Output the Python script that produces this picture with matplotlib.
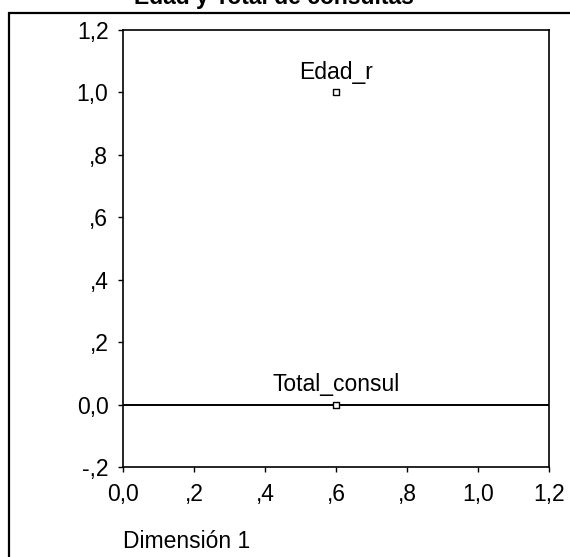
import matplotlib
matplotlib.use("Agg")
import matplotlib.pyplot as plt
from matplotlib.patches import Rectangle

# Data
labels = ["Edad_r", "Total_consul"]
dim1 = [0.6, 0.6]
dim2 = [1.0, 0.0]
xticks = [0.0, 0.2, 0.4, 0.6, 0.8, 1.0, 1.2]
xticklabels = ["0,0", ",2", ",4", ",6", ",8", "1,0", "1,2"]
yticks = [-0.2, 0.0, 0.2, 0.4, 0.6, 0.8, 1.0, 1.2]
yticklabels = ["-,2", "0,0", ",2", ",4", ",6", ",8", "1,0", "1,2"]
title = "Edad y Total de consultas"
xlabel = "Dimensión 1"

plt.rcParams['font.family'] = ['Liberation Sans', 'DejaVu Sans']
FS = 16.5

W, H = 570, 557
fig = plt.figure(figsize=(W / 100, H / 100), dpi=100)

# outer frame (clipped at right/bottom in reference)
fig.patches.append(Rectangle((9 / W, -0.1), 1.2, 1 - 13 / H + 0.1,
                             transform=fig.transFigure, fill=False,
                             edgecolor='black', linewidth=1.6, clip_on=False))

ax = fig.add_axes([123 / W, 1 - 467 / H, (549 - 123) / W, (467 - 30) / H])
ax.set_xlim(0.0, 1.2)
ax.set_ylim(-0.2, 1.2)

ax.axhline(0.0, color='black', linewidth=1.4, zorder=2)
ax.scatter(dim1, dim2, marker='s', s=24, facecolor='white', edgecolor='black',
           linewidth=1.0, zorder=3)
for lab, x, y in zip(labels, dim1, dim2):
    ax.annotate(lab, (x, y), xytext=(0, 9.5), textcoords='offset points',
                ha='center', va='baseline', fontsize=FS)

ax.set_xticks(xticks)
ax.set_xticklabels(xticklabels)
ax.set_yticks(yticks)
ax.set_yticklabels(yticklabels)
ax.tick_params(direction='out', length=3.5, width=1.0, labelsize=FS, pad=8)
ax.tick_params(axis='y', pad=7)
for s in ax.spines.values():
    s.set_linewidth(1.2)
    s.set_color('black')

fig.text(274 / W, 1 - 4 / H, title, ha='center', va='baseline',
         fontsize=FS, fontweight='bold')
fig.text(123 / W, 1 - 548 / H, xlabel, ha='left', va='baseline', fontsize=FS)

fig.savefig("out.png", dpi=100)
